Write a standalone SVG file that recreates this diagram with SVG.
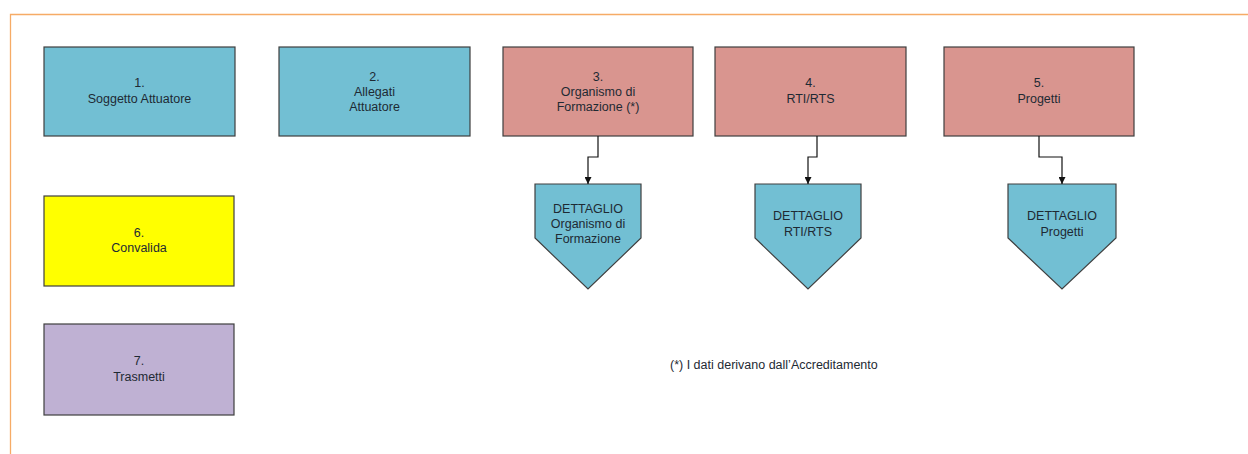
<svg xmlns="http://www.w3.org/2000/svg" width="1248" height="454" viewBox="0 0 1248 454">
<style>
.box{stroke:#3f3f3f;stroke-width:1.2}
.blue{fill:#72bfd3}
.pink{fill:#d9958f}
.yellow{fill:#ffff00}
.lav{fill:#bfb1d3}
text{font-family:"Liberation Sans",Arial,sans-serif;font-size:12.5px;fill:#1e2a33;text-anchor:middle}
.conn{fill:none;stroke:#111;stroke-width:1.2}
</style>
<defs>
<marker id="arr" viewBox="0 0 10 10" refX="10" refY="5" markerWidth="7" markerHeight="7" markerUnits="userSpaceOnUse" orient="auto">
<path d="M0,0 L10,5 L0,10 Z" fill="#111"/>
</marker>
</defs>
<rect x="0" y="0" width="1248" height="454" fill="#ffffff"/>
<path d="M10.5,454 V14.5 H1248" fill="none" stroke="#f6ab66" stroke-width="1.3"/>

<g id="n1"><rect class="box blue" x="44" y="47" width="191" height="89"/><text x="139.5" y="87">1.</text><text x="139.5" y="102.5">Soggetto Attuatore</text></g>
<g id="n2"><rect class="box blue" x="279" y="47" width="191" height="89"/><text x="374.5" y="81">2.</text><text x="374.5" y="96">Allegati</text><text x="374.5" y="111">Attuatore</text></g>
<g id="n3"><rect class="box pink" x="503" y="47" width="190" height="89"/><text x="598" y="81">3.</text><text x="598" y="96">Organismo di</text><text x="598" y="111">Formazione (*)</text></g>
<g id="n4"><rect class="box pink" x="715" y="47" width="191" height="89"/><text x="810.5" y="87">4.</text><text x="810.5" y="102.5">RTI/RTS</text></g>
<g id="n5"><rect class="box pink" x="944" y="47" width="190" height="89"/><text x="1039" y="87">5.</text><text x="1039" y="102.5">Progetti</text></g>
<g id="n6"><rect class="box yellow" x="44" y="196" width="190" height="90"/><text x="139" y="236.5">6.</text><text x="139" y="252">Convalida</text></g>
<g id="n7"><rect class="box lav" x="44" y="324" width="190" height="91"/><text x="139" y="365">7.</text><text x="139" y="380.5">Trasmetti</text></g>

<g id="d3"><path class="box blue" d="M535,184 H641 V238 L588,289 L535,238 Z"/><text x="588" y="213">DETTAGLIO</text><text x="588" y="228">Organismo di</text><text x="588" y="243">Formazione</text></g>
<g id="d4"><path class="box blue" d="M755,184 H861 V238 L808,289 L755,238 Z"/><text x="808" y="220">DETTAGLIO</text><text x="808" y="235.5">RTI/RTS</text></g>
<g id="d5"><path class="box blue" d="M1008,184 H1116 V238 L1062,289 L1008,238 Z"/><text x="1062" y="220">DETTAGLIO</text><text x="1062" y="235.5">Progetti</text></g>

<g id="connectors">
<path class="conn" d="M598,136 V157 H588 V184" marker-end="url(#arr)"/>
<path class="conn" d="M817,136 V157 H808 V184" marker-end="url(#arr)"/>
<path class="conn" d="M1039,136 V157 H1062 V184" marker-end="url(#arr)"/>
</g>

<text x="670" y="369" style="text-anchor:start">(*) I dati derivano dall’Accreditamento</text>
</svg>
